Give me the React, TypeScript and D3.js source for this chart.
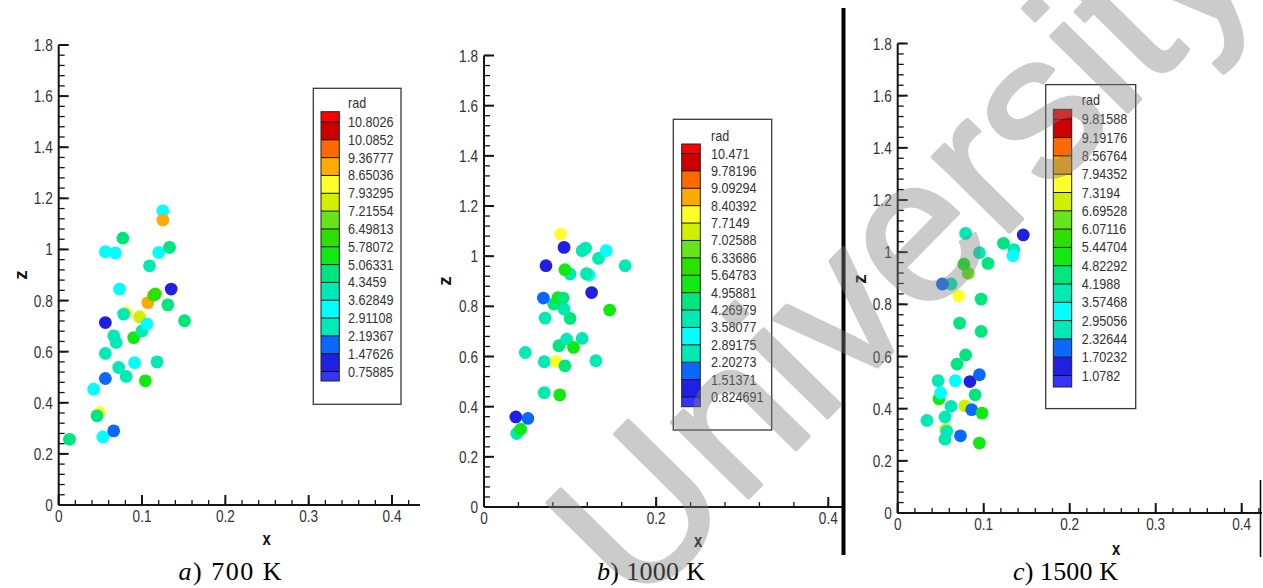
import React from 'react';
import * as d3 from 'd3';

// ---------- colour map (Tecplot-like banded rainbow, bottom -> top) ----------
const BAND_COLORS = [
  '#3434ff', '#2020e4', '#0868ff', '#00eab8', '#00ffff', '#00eab4', '#00e67e', '#10ea10',
  '#2ee000', '#66e61a', '#d0f000', '#ffff2a', '#ffaa00', '#ff6a00', '#cc0000', '#ff0000',
];

// ---------- panel a) 700 K ----------
const A_LEVELS = ['0.75885', '1.47626', '2.19367', '2.91108', '3.62849', '4.3459', '5.06331', '5.78072', '6.49813', '7.21554', '7.93295', '8.65036', '9.36777', '10.0852', '10.8026'];
const A_X = [0.013, 0.049, 0.046, 0.053, 0.066, 0.042, 0.056, 0.056, 0.066, 0.069, 0.056, 0.081, 0.078, 0.073, 0.072, 0.081, 0.091, 0.090, 0.097, 0.100, 0.106, 0.104, 0.107, 0.114, 0.116, 0.118, 0.109, 0.120, 0.133, 0.131, 0.135, 0.151, 0.125, 0.125, 0.077, 0.056, 0.068];
const A_Z = [0.257, 0.362, 0.349, 0.266, 0.290, 0.453, 0.495, 0.593, 0.662, 0.636, 0.714, 0.753, 0.747, 0.845, 0.538, 0.503, 0.557, 0.655, 0.736, 0.681, 0.708, 0.486, 0.792, 0.821, 0.826, 0.560, 0.936, 0.988, 1.008, 0.783, 0.845, 0.721, 1.151, 1.115, 1.044, 0.991, 0.986];
const A_RAD = [4.7, 8.2, 4.6, 3.2, 1.8, 3.1, 1.9, 2.6, 2.5, 4.0, 1.1, 8.1, 4.0, 3.3, 2.6, 4.1, 3.2, 5.5, 7.5, 3.9, 3.0, 5.6, 9.0, 5.9, 6.2, 4.0, 4.0, 3.2, 4.6, 4.7, 1.1, 4.6, 3.3, 9.1, 4.8, 3.3, 3.2];

// ---------- panel b) 1000 K ----------
const B_LEVELS = ['0.824691', '1.51371', '2.20273', '2.89175', '3.58077', '4.26979', '4.95881', '5.64783', '6.33686', '7.02588', '7.7149', '8.40392', '9.09294', '9.78196', '10.471'];
const B_X = [0.037, 0.051, 0.038, 0.0426, 0.048, 0.070, 0.088, 0.070, 0.084, 0.094, 0.087, 0.096, 0.104, 0.114, 0.130, 0.071, 0.100, 0.093, 0.081, 0.086, 0.092, 0.069, 0.125, 0.146, 0.072, 0.100, 0.094, 0.122, 0.119, 0.093, 0.089, 0.114, 0.118, 0.133, 0.142, 0.164];
const B_Z = [0.359, 0.353, 0.293, 0.310, 0.616, 0.456, 0.447, 0.579, 0.580, 0.563, 0.643, 0.669, 0.636, 0.672, 0.583, 0.753, 0.752, 0.789, 0.809, 0.835, 0.833, 0.833, 0.855, 0.785, 0.962, 0.929, 0.946, 0.925, 0.930, 1.035, 1.088, 1.022, 1.032, 0.991, 1.022, 0.962];
const B_RAD = [1.1, 1.9, 4.0, 5.4, 4.0, 3.9, 5.4, 4.0, 8.0, 4.8, 4.6, 3.9, 5.3, 3.9, 3.9, 3.9, 4.6, 3.8, 4.7, 5.4, 4.6, 1.9, 1.1, 5.5, 1.1, 3.9, 5.4, 3.2, 3.9, 1.1, 8.0, 3.9, 3.9, 3.9, 3.2, 3.9];

// ---------- panel c) 1500 K ----------
const C_LEVELS = ['1.0782', '1.70232', '2.32644', '2.95056', '3.57468', '4.1988', '4.82292', '5.44704', '6.07116', '6.69528', '7.3194', '7.94352', '8.56764', '9.19176', '9.81588'];
const C_X = [0.034, 0.048, 0.050, 0.055, 0.056, 0.057, 0.055, 0.062, 0.073, 0.095, 0.047, 0.067, 0.084, 0.095, 0.090, 0.078, 0.086, 0.098, 0.069, 0.079, 0.072, 0.097, 0.097, 0.071, 0.062, 0.052, 0.082, 0.077, 0.079, 0.095, 0.105, 0.123, 0.135, 0.134, 0.146];
const C_Z = [0.355, 0.438, 0.460, 0.283, 0.320, 0.313, 0.368, 0.409, 0.296, 0.268, 0.507, 0.507, 0.504, 0.530, 0.453, 0.411, 0.396, 0.383, 0.571, 0.606, 0.728, 0.696, 0.820, 0.832, 0.878, 0.878, 0.919, 0.954, 1.072, 0.998, 0.957, 1.034, 1.010, 0.986, 1.066];
const C_RAD = [4.0, 5.1, 3.3, 3.9, 7.0, 2.6, 2.6, 2.6, 2.0, 5.2, 3.9, 3.3, 1.4, 2.0, 4.5, 7.0, 2.0, 5.2, 4.5, 4.4, 4.5, 4.5, 4.5, 7.6, 2.6, 2.0, 6.4, 5.2, 2.6, 3.9, 4.4, 4.5, 2.6, 3.3, 1.4];

const X_TICKS_FINE = [0, 0.1, 0.2, 0.3, 0.4];
const X_TICKS_COARSE = [0, 0.2, 0.4];
const Z_TICKS = [0, 0.2, 0.4, 0.6, 0.8, 1, 1.2, 1.4, 1.6, 1.8];

// ---------- layout (positions only) ----------
const PANELS = [
  {
    key: 'a', xs: A_X, zs: A_Z, rad: A_RAD, levels: A_LEVELS, xTicks: X_TICKS_FINE, minorStep: 0.02,
    x0: 58.7, x4: 392, xEnd: 420, y0: 505, y18: 45,
    box: [313.3, 88.3, 87.7, 316], bar: [321, 18.3, 111.7, 381], lvl: [122, 371.5], labX: 348, radY: 104,
    xLab: [266.5, 539], zLab: [20.5, 275],
    cap: ['a', ') 700 K'], capX: 178.5, capW: 103,
  },
  {
    key: 'b', xs: B_X, zs: B_Z, rad: B_RAD, levels: B_LEVELS, xTicks: X_TICKS_COARSE, minorStep: 0.04,
    x0: 484, x4: 828.3, xEnd: 842, y0: 507, y18: 55.5,
    box: [673.3, 119.3, 98.4, 310.7], bar: [681.7, 18.6, 144, 406.7], lvl: [153.5, 397], labX: 711, radY: 136.7,
    xLab: [698, 541], zLab: [445, 281],
    cap: ['b', ') 1000 K'], capX: 597, capW: 108,
  },
  {
    key: 'c', xs: C_X, zs: C_Z, rad: C_RAD, levels: C_LEVELS, xTicks: X_TICKS_FINE, minorStep: 0.02,
    x0: 897.7, x4: 1241.7, xEnd: 1262, y0: 513, y18: 43.5,
    box: [1045.7, 84.6, 90, 324], bar: [1053.3, 18.4, 109.3, 387], lvl: [119.3, 375.5], labX: 1081.7, radY: 101,
    xLab: [1116, 549], zLab: [860, 279],
    cap: ['c', ') 1500 K'], capX: 1013, capW: 105,
  },
];

const SANS = "'Liberation Sans', Arial, sans-serif";
const SERIF = "'Liberation Serif', 'Times New Roman', serif";

function CText({ x, y, sx = 0.85, anchor = 'start', size = 16, weight = 'normal', fill = '#333', children }: any) {
  return (
    <text transform={`translate(${x},${y}) scale(${sx},1)`} textAnchor={anchor}
      fontFamily={SANS} fontSize={size} fontWeight={weight} fill={fill}>{children}</text>
  );
}

function Panel({ p }: any) {
  const x = d3.scaleLinear().domain([0, 0.4]).range([p.x0, p.x4]);
  const y = d3.scaleLinear().domain([0, 1.8]).range([p.y0, p.y18]);
  const lv = p.levels.map(Number);
  const color = d3.scaleThreshold<number, string>().domain(lv).range(BAND_COLORS);
  const xMax = x.invert(p.xEnd);
  const xMinor = d3.range(0, xMax + 1e-9, p.minorStep);
  const zMinor = d3.range(0, 1.8 + 1e-9, 0.04);
  const ly = d3.scaleLinear().domain([lv[0], lv[lv.length - 1]]).range([p.lvl[1], p.lvl[0]]);
  const [bx, bw, bTop, bBot] = p.bar;
  const edges = [bBot, ...lv.map((v: number) => ly(v)), bTop];
  const axisCol = '#151515';

  return (
    <g>
      {xMinor.map((t: number, i: number) => (
        <line key={'xm' + i} x1={x(t)} x2={x(t)} y1={y(0)} y2={y(0) - 5} stroke={axisCol} strokeWidth={1.3} />
      ))}
      {zMinor.map((t: number, i: number) => (
        <line key={'zm' + i} x1={x(0)} x2={x(0) + 6} y1={y(t)} y2={y(t)} stroke={axisCol} strokeWidth={1.3} />
      ))}
      {p.xTicks.map((t: number) => (
        <line key={'xM' + t} x1={x(t)} x2={x(t)} y1={y(0)} y2={y(0) - 10} stroke={axisCol} strokeWidth={2} />
      ))}
      {Z_TICKS.map((t: number) => (
        <line key={'zM' + t} x1={x(0)} x2={x(0) + 10} y1={y(t)} y2={y(t)} stroke={axisCol} strokeWidth={2} />
      ))}
      <line x1={x(0)} x2={p.xEnd} y1={y(0)} y2={y(0)} stroke={axisCol} strokeWidth={2} />
      <line x1={x(0)} x2={x(0)} y1={y(0)} y2={y(1.8)} stroke={axisCol} strokeWidth={2} />
      {p.xTicks.map((t: number) => (
        <CText key={'xl' + t} x={x(t)} y={y(0) + 17} anchor="middle" size={17} sx={0.8}>{String(t)}</CText>
      ))}
      {Z_TICKS.map((t: number) => (
        <CText key={'zl' + t} x={x(0) - 6} y={y(t) + 6} anchor="end" size={17} sx={0.8}>{String(t)}</CText>
      ))}
      <CText x={p.xLab[0]} y={p.xLab[1] + 6} anchor="middle" size={19} weight="bold" sx={0.78} fill="#111">x</CText>
      <g transform={`translate(${p.zLab[0] + 6},${p.zLab[1]}) rotate(-90)`}>
        <text textAnchor="middle" fontFamily={SANS} fontSize={19} fontWeight="bold" fill="#111">z</text>
      </g>
      {p.xs.map((v: number, i: number) => (
        <circle key={'pt' + i} cx={x(v)} cy={y(p.zs[i])} r={6.4} fill={color(p.rad[i])} />
      ))}
      <rect x={p.box[0]} y={p.box[1]} width={p.box[2]} height={p.box[3]} fill="white" stroke="#3a3a3a" strokeWidth={1.3} />
      {BAND_COLORS.map((c: string, i: number) => (
        <rect key={'bd' + i} x={bx} y={edges[i + 1]} width={bw} height={edges[i] - edges[i + 1]} fill={c} />
      ))}
      {lv.map((v: number, i: number) => (
        <line key={'bl' + i} x1={bx} x2={bx + bw} y1={ly(v)} y2={ly(v)} stroke="#111" strokeWidth={1} />
      ))}
      <rect x={bx} y={bTop} width={bw} height={bBot - bTop} fill="none" stroke="#222" strokeWidth={1} />
      <CText x={p.labX} y={p.radY + 4} size={14} sx={0.9}>rad</CText>
      {p.levels.map((s: string, i: number) => (
        <CText key={'ll' + i} x={p.labX} y={ly(lv[i]) + 5} size={14} sx={0.9}>{s}</CText>
      ))}
      <text x={p.capX} y={580} fontFamily={SERIF} fontSize={26} fill="#000" textLength={p.capW} lengthAdjust="spacing">
        <tspan fontStyle="italic">{p.cap[0]}</tspan>{p.cap[1]}
      </text>
    </g>
  );
}

export default function App() {
  return (
    <svg width={1263} height={588} style={{ position: 'absolute', left: 0, top: 0, background: '#fff' }}>
      <rect x={0} y={0} width={1263} height={588} fill="#fff" />
      {PANELS.map((p) => <Panel key={p.key} p={p} />)}
      <rect x={841.5} y={8} width={4} height={547} fill="#000" />
      <line x1={1260.5} x2={1260.5} y1={480} y2={557} stroke="#000" strokeWidth={1.5} />
      <g opacity={0.4}>
        <text transform="translate(636,612) rotate(-45.5)" fontFamily={SANS} fontSize={203} fill="#808080"
          stroke="#808080" strokeWidth={4} strokeLinejoin="round">University</text>
      </g>
    </svg>
  );
}
